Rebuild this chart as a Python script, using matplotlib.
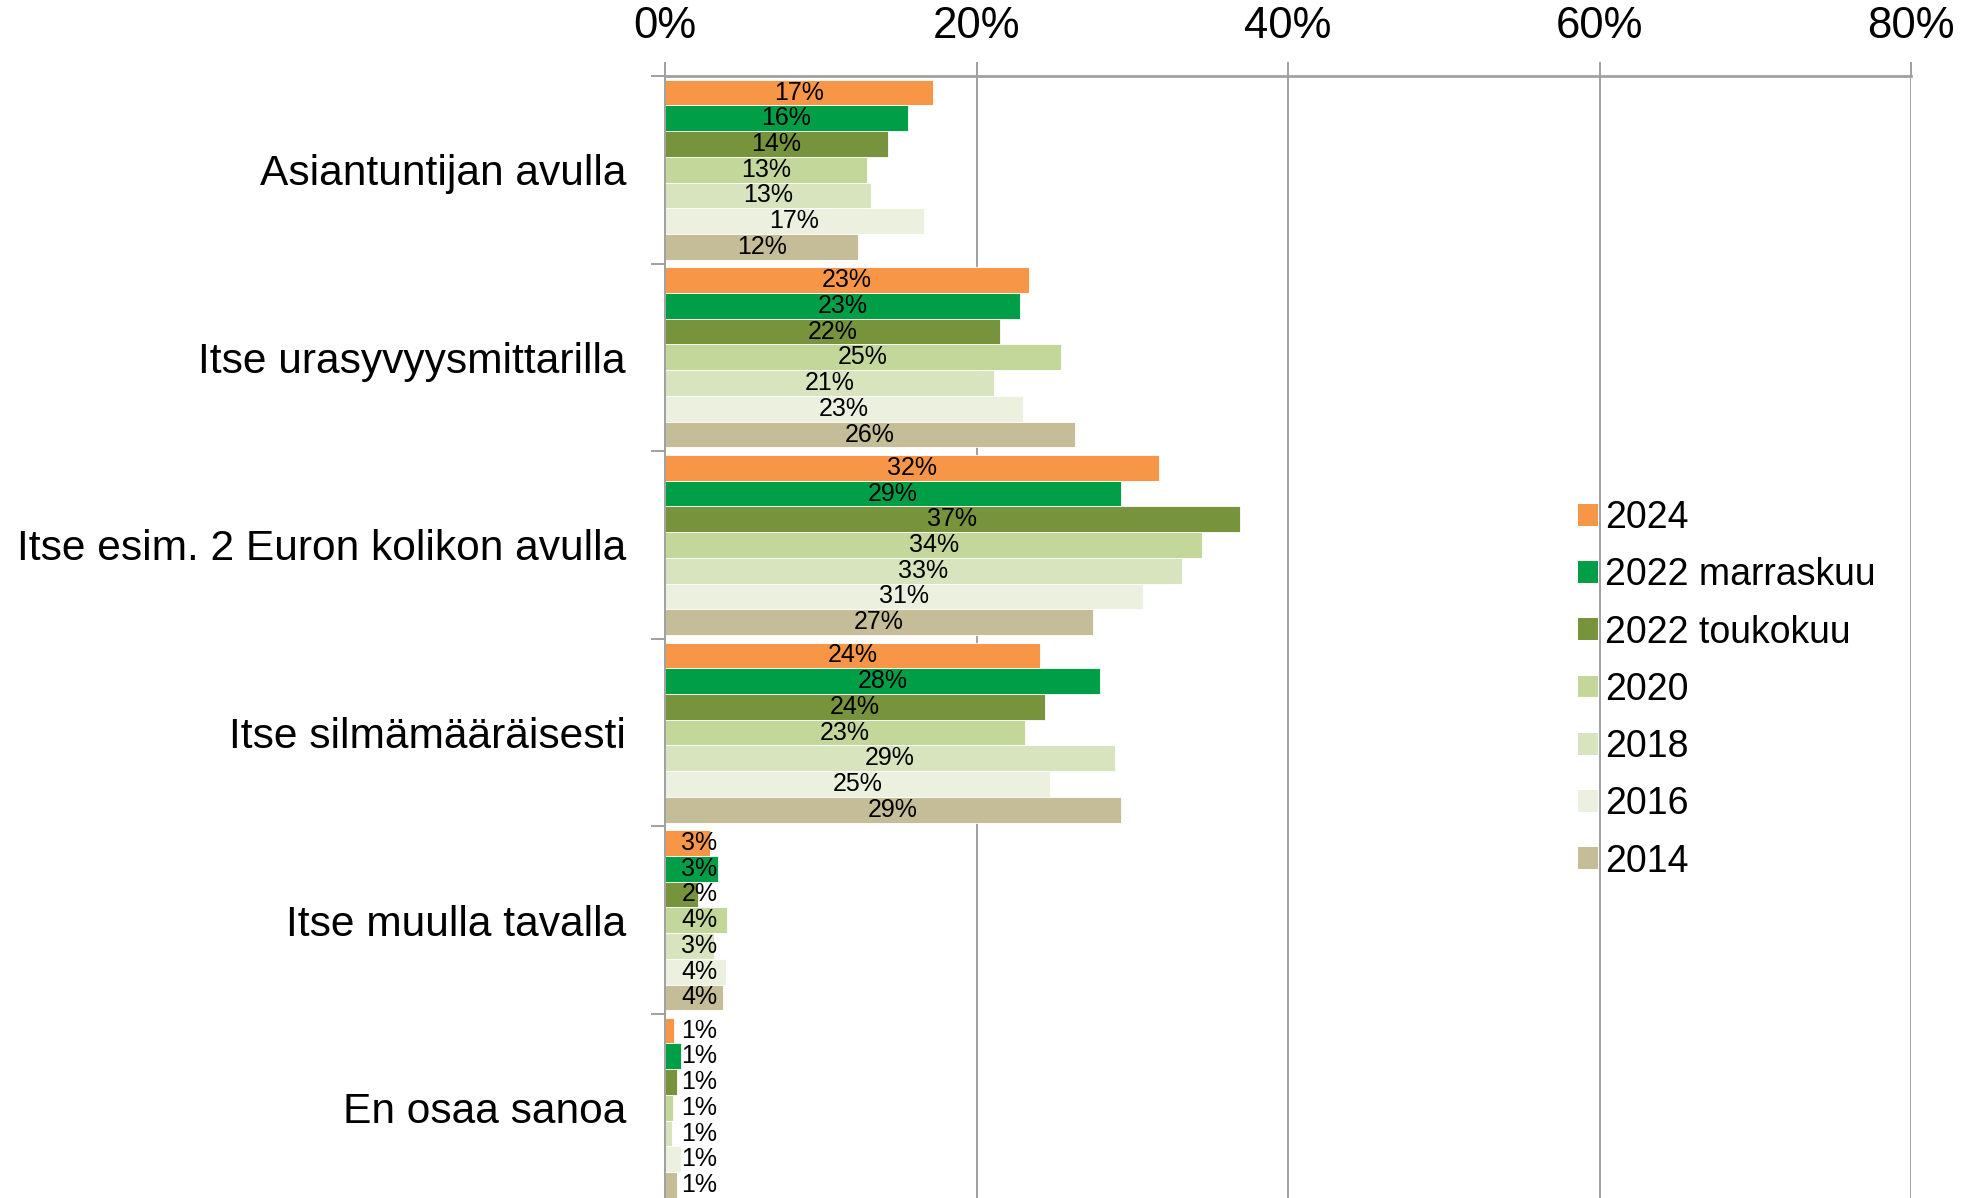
import numpy as np
import matplotlib.pyplot as plt
from matplotlib.patches import Patch

plt.rcParams['font.family'] = ['Liberation Sans', 'DejaVu Sans']

# kategoriat (ylhäältä alas)
categories = ['Asiantuntijan avulla', 'Itse urasyvyysmittarilla',
              'Itse esim. 2 Euron kolikon avulla', 'Itse silmämääräisesti',
              'Itse muulla tavalla', 'En osaa sanoa']

# sarjat
series = ['2024', '2022 marraskuu', '2022 toukokuu', '2020', '2018', '2016', '2014']
colors = ['#F79646', '#009E47', '#77933C', '#C4D79B', '#D7E4BD', '#EBF1DE', '#C4BD97']

# palkkien pituudet (%) luettu kuvasta, sarake = kategoria
v2024 = [17.2, 23.4, 31.7, 24.1, 2.9, 0.6]
v2022m = [15.6, 22.8, 29.3, 27.9, 3.4, 1.0]
v2022t = [14.3, 21.5, 36.9, 24.4, 2.1, 0.75]
v2020 = [13.0, 25.4, 34.5, 23.1, 4.0, 0.5]
v2018 = [13.25, 21.1, 33.2, 28.9, 3.15, 0.45]
v2016 = [16.6, 23.0, 30.7, 24.7, 3.9, 1.0]
v2014 = [12.4, 26.3, 27.5, 29.3, 3.7, 0.8]
values = [v2024, v2022m, v2022t, v2020, v2018, v2016, v2014]

# arvotekstit sellaisinaan kuin kuvassa
l2024 = [17, 23, 32, 24, 3, 1]
l2022m = [16, 23, 29, 28, 3, 1]
l2022t = [14, 22, 37, 24, 2, 1]
l2020 = [13, 25, 34, 23, 4, 1]
l2018 = [13, 21, 33, 29, 3, 1]
l2016 = [17, 23, 31, 25, 4, 1]
l2014 = [12, 26, 27, 29, 4, 1]
labels = [l2024, l2022m, l2022t, l2020, l2018, l2016, l2014]

xticks = [0, 20, 40, 60, 80]

fig = plt.figure(figsize=(19.82, 11.98), dpi=100)
ax = fig.add_axes([665 / 1982, -0.003, (1911 - 665) / 1982, 0.9366 + 0.003])

n = len(series)
bar_h = 0.96 / n
y = np.arange(len(categories))

for j, (name, vals, labs, col) in enumerate(zip(series, values, labels, colors)):
    pos = y - 0.48 + bar_h * (j + 0.5)
    ax.barh(pos, vals, height=bar_h, color=col, edgecolor='white', linewidth=0.6, zorder=2)
    for p, v, lab in zip(pos, vals, labs):
        # pienille palkeille teksti hieman oikealle
        ax.text(max(v / 2, 2.2), p, f'{lab}%', ha='center', va='center',
                fontsize=18, color='black', zorder=3)

ax.set_xlim(0, 80)
ax.set_ylim(len(categories) - 0.5, -0.5)

# akselit ja ruudukko
ax.xaxis.tick_top()
ax.set_xticks(xticks)
ax.set_xticklabels([f'{t}%' for t in xticks], fontsize=31.5)
ax.tick_params(axis='x', length=10, width=1.4, color='#A0A0A0', pad=11)
ax.grid(axis='x', color='#A0A0A0', linewidth=1.4, zorder=0)
ax.set_axisbelow(True)

ax.set_yticks(y)
ax.set_yticklabels(categories, fontsize=30.6)
ax.set_yticks(np.arange(len(categories) + 1) - 0.5, minor=True)
ax.tick_params(axis='y', which='major', length=0, pad=28)
ax.tick_params(axis='y', which='minor', length=10, width=1.4, color='#A0A0A0')

for s in ['right', 'bottom']:
    ax.spines[s].set_visible(False)
ax.spines['top'].set_color('#A0A0A0')
ax.spines['top'].set_linewidth(2)
ax.spines['left'].set_color('#A0A0A0')
ax.spines['left'].set_linewidth(1.4)

handles = [Patch(facecolor=c, edgecolor='none') for c in colors]
ax.legend(handles, series, loc='upper left', bbox_to_anchor=(1578 / 1982, 1 - 500 / 1198),
          bbox_transform=fig.transFigure, frameon=False, fontsize=27,
          handlelength=0.52, handleheight=0.52, handletextpad=0.2,
          labelspacing=0.567, borderpad=0, borderaxespad=0)

plt.savefig('out.png', dpi=100)
